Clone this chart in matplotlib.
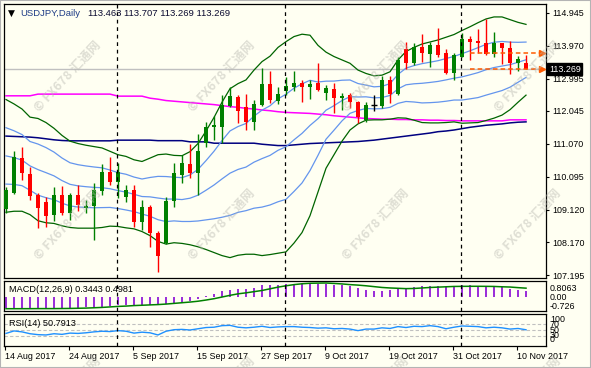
import numpy as np
import pandas as pd
import matplotlib
matplotlib.use("Agg")
import matplotlib.pyplot as plt
from matplotlib.patches import Rectangle

plt.rcParams['font.family'] = ['Liberation Sans', 'DejaVu Sans']

# ---------------- data ----------------
symbol = "USDJPY,Daily"
start_date = "2017-08-14"

open_ = [109.14, 109.61, 110.64, 110.18, 109.56, 109.36, 108.97, 109.56, 109.02, 109.56,
         109.17, 109.24, 109.69, 110.23, 109.95, 109.49, 109.71, 108.77, 109.20, 108.43,
         108.13, 109.38, 110.15, 110.48, 110.20, 111.09, 111.56, 111.58, 112.19, 112.46,
         112.15, 111.73, 112.22, 112.83, 112.35, 112.64, 112.74, 112.86, 112.76, 112.86,
         112.58, 112.68, 112.43, 112.51, 112.32, 111.78, 112.21, 112.19, 112.96, 112.53,
         113.87, 113.45, 113.92, 113.73, 113.99, 113.76, 113.17, 113.65, 114.17, 114.12,
         114.06, 113.72, 114.04, 113.89, 113.47, 113.463]
high = [109.80, 110.87, 110.99, 110.40, 109.62, 109.51, 109.80, 109.82, 109.63, 109.86,
        109.41, 109.92, 110.47, 110.67, 110.51, 109.86, 109.86, 109.41, 109.26, 108.50,
        109.49, 110.50, 110.74, 111.07, 111.35, 111.73, 111.89, 112.51, 112.76, 112.51,
        112.53, 112.37, 113.30, 113.22, 112.74, 113.05, 113.22, 112.96, 112.96, 113.47,
        112.81, 112.86, 112.56, 112.56, 112.35, 112.32, 112.51, 113.08, 113.08, 113.63,
        114.09, 114.06, 114.31, 114.09, 114.50, 113.86, 113.76, 114.34, 114.27, 114.46,
        114.76, 114.38, 114.06, 114.11, 113.67, 113.707]
low = [109.02, 109.58, 110.00, 109.41, 108.59, 108.62, 108.80, 108.97, 108.82, 109.10,
       109.02, 108.23, 109.56, 109.86, 109.46, 109.36, 108.60, 108.53, 108.03, 107.29,
       108.10, 109.21, 109.90, 110.05, 109.56, 110.99, 111.18, 111.09, 112.17, 111.68,
       111.48, 111.48, 112.19, 112.29, 112.25, 112.51, 112.64, 112.32, 112.40, 112.64,
       112.37, 111.99, 112.07, 112.12, 111.70, 111.72, 112.04, 112.12, 112.29, 112.51,
       113.27, 113.40, 113.48, 113.35, 113.65, 113.13, 112.96, 113.63, 113.55, 113.76,
       113.70, 113.65, 113.42, 113.13, 113.23, 113.269]
close = [109.71, 110.69, 110.20, 109.53, 109.17, 108.95, 109.56, 109.04, 109.56, 109.26,
         109.24, 109.71, 110.23, 109.95, 110.25, 109.71, 108.77, 109.20, 108.43, 107.76,
         109.38, 110.20, 110.50, 110.22, 110.86, 111.58, 111.62, 112.22, 112.48, 112.05,
         111.73, 112.25, 112.83, 112.37, 112.53, 112.78, 112.86, 112.76, 112.84, 112.66,
         112.73, 112.43, 112.49, 112.32, 111.87, 112.22, 112.21, 112.96, 112.53, 113.55,
         113.45, 113.92, 113.76, 113.99, 113.70, 113.17, 113.70, 114.17, 114.09, 114.04,
         113.72, 114.04, 113.89, 113.47, 113.58, 113.269]

bb_upper = [112.38, 112.25, 112.10, 111.86, 111.82, 111.70, 111.53, 111.32, 111.15, 111.08,
            111.03, 110.99, 110.95, 110.85, 110.75, 110.70, 110.60, 110.55, 110.65, 110.75,
            110.77, 110.73, 110.72, 110.84, 111.08, 111.45, 111.85, 112.30, 112.70, 112.85,
            112.96, 113.25, 113.50, 113.66, 113.92, 114.09, 114.24, 114.31, 114.28, 113.98,
            113.78, 113.65, 113.55, 113.45, 113.25, 113.15, 113.08, 113.10, 113.20, 113.55,
            113.80, 113.92, 114.02, 114.08, 114.14, 114.22, 114.30, 114.42, 114.53, 114.65,
            114.76, 114.82, 114.82, 114.74, 114.66, 114.60]
bb_lower = [109.05, 109.08, 109.08, 108.98, 108.80, 108.74, 108.72, 108.65, 108.60, 108.58,
            108.58, 108.58, 108.60, 108.64, 108.63, 108.59, 108.56, 108.48, 108.36, 108.19,
            108.11, 108.15, 108.13, 108.09, 108.03, 107.95, 107.86, 107.77, 107.71, 107.78,
            107.81, 107.81, 107.77, 107.80, 107.84, 107.88, 108.14, 108.45, 108.95, 109.65,
            110.35, 110.75, 111.15, 111.48, 111.66, 111.77, 111.78, 111.78, 111.80, 111.84,
            111.83, 111.77, 111.70, 111.69, 111.69, 111.70, 111.72, 111.68, 111.69, 111.70,
            111.76, 111.83, 111.92, 112.08, 112.30, 112.51]
ma_magenta = [112.49, 112.49, 112.49, 112.49, 112.54, 112.54, 112.54, 112.54, 112.54, 112.54,
              112.54, 112.54, 112.54, 112.54, 112.48, 112.48, 112.48, 112.48, 112.42, 112.39,
              112.35, 112.33, 112.31, 112.29, 112.27, 112.25, 112.23, 112.20, 112.17, 112.15,
              112.12, 112.10, 112.07, 112.05, 112.02, 112.00, 111.99, 111.98, 111.97, 111.95,
              111.93, 111.90, 111.88, 111.86, 111.84, 111.82, 111.81, 111.80, 111.80, 111.79,
              111.79, 111.78, 111.78, 111.77, 111.77, 111.76, 111.76, 111.75, 111.75, 111.75,
              111.75, 111.75, 111.75, 111.78, 111.78, 111.78]
ma_navy = [111.30, 111.29, 111.28, 111.27, 111.25, 111.22, 111.19, 111.17, 111.16, 111.16,
           111.16, 111.16, 111.16, 111.16, 111.18, 111.18, 111.18, 111.18, 111.18, 111.165,
           111.165, 111.165, 111.165, 111.13, 111.13, 111.13, 111.09, 111.09, 111.09, 111.09,
           111.09, 111.09, 111.06, 111.04, 111.02, 111.02, 111.04, 111.06, 111.08, 111.09,
           111.10, 111.11, 111.12, 111.13, 111.14, 111.16, 111.18, 111.21, 111.24, 111.27,
           111.30, 111.33, 111.36, 111.39, 111.43, 111.45, 111.48, 111.52, 111.56, 111.59,
           111.62, 111.64, 111.66, 111.69, 111.71, 111.72]

macd = [-0.70, -0.71, -0.72, -0.72, -0.72, -0.72, -0.70, -0.70, -0.70, -0.70,
        -0.65, -0.65, -0.61, -0.57, -0.53, -0.49, -0.49, -0.49, -0.49, -0.45,
        -0.45, -0.39, -0.33, -0.25, -0.15, 0.01, 0.15, 0.31, 0.41, 0.47,
        0.47, 0.51, 0.67, 0.67, 0.71, 0.75, 0.76, 0.76, 0.76, 0.76,
        0.75, 0.71, 0.67, 0.61, 0.51, 0.41, 0.35, 0.35, 0.41, 0.47,
        0.51, 0.55, 0.61, 0.61, 0.61, 0.55, 0.61, 0.67, 0.67, 0.61,
        0.61, 0.55, 0.55, 0.47, 0.41, 0.3443]
macd_signal = [-0.726, -0.726, -0.725, -0.724, -0.72, -0.72, -0.72, -0.715, -0.71, -0.70,
               -0.69, -0.67, -0.65, -0.62, -0.59, -0.57, -0.54, -0.52, -0.50, -0.48,
               -0.45, -0.41, -0.37, -0.33, -0.28, -0.21, -0.13, -0.03, 0.07, 0.16,
               0.22, 0.29, 0.36, 0.46, 0.56, 0.64, 0.71, 0.76, 0.79, 0.80,
               0.8063, 0.78, 0.75, 0.71, 0.68, 0.64, 0.59, 0.54, 0.51, 0.49,
               0.47, 0.48, 0.51, 0.54, 0.56, 0.58, 0.60, 0.606, 0.61, 0.61,
               0.606, 0.60, 0.58, 0.566, 0.53, 0.4981]
rsi = [39, 47, 44, 38, 35, 34, 38, 36, 40, 39, 41, 44, 46, 45, 48, 46, 40, 43, 41, 34,
       46, 51, 52, 50, 54, 58, 59, 64, 65, 59, 57, 59, 62, 58, 60, 61, 61, 59, 58, 56,
       57, 54, 55, 53, 48, 53, 53, 57, 55, 61, 58, 62, 61, 64, 61, 54, 59, 63, 62, 61,
       57, 59, 57, 53, 55, 50.79]

price_ticks = [114.945, 113.970, 112.995, 112.045, 111.070, 110.095, 109.120, 108.170, 107.195]
order_level = 113.745
macd_scale_labels = ["0.8063", "0.00", "-0.726"]
rsi_levels = [70, 50, 30]
rsi_scale_labels = ["100", "70", "50", "30", "0"]
header_values = "113.463 113.707 113.269 113.269"
macd_title = "MACD(12,26,9) 0.3443 0.4981"
rsi_title = "RSI(14) 50.7913"
watermark = "© FX678 汇通网"

# ---------------- styling ----------------
W, H = 591, 368
BG = "#FFFFF2"
GREEN = "#008000"
RED = "#FF0000"
BLUE = "#6495ED"
DKGREEN = "#006400"
ORANGE = "#FF5A00"
FS = 6.4

open_ = np.array(open_); high = np.array(high); low = np.array(low); close = np.array(close)
n = len(close)
idx = np.arange(n)
dates = pd.bdate_range(start_date, periods=n)

fig = plt.figure(figsize=(W / 100, H / 100), dpi=100, facecolor=BG)
fig.patches.append(Rectangle((0, 0), 1, 1, transform=fig.transFigure, fill=False,
                             ec="#B4B4B4", lw=1.5, zorder=0))


def rect(x0, y0, x1, y1):
    return [x0 / W, 1 - y1 / H, (x1 - x0) / W, (y1 - y0) / H]


ax = fig.add_axes(rect(4, 4, 545.7, 278))
axm = fig.add_axes(rect(4, 280.7, 545.7, 311.3))
axr = fig.add_axes(rect(4, 314.2, 545.7, 345.5))

XL = (-0.25, 67.46)
for a in (ax, axm, axr):
    a.set_facecolor(BG)
    a.set_xlim(*XL)
    for s in a.spines.values():
        s.set_color("black")
        s.set_linewidth(0.9)

# ---------------- main chart ----------------
ax.set_ylim(107.108, 115.202)
ax.axhline(close[-1], color="#C0C0C0", lw=1, zorder=1)

bb_upper = np.array(bb_upper); bb_lower = np.array(bb_lower)
bb_mid = (bb_upper + bb_lower) / 2
half = (bb_upper - bb_lower) / 4
ax.plot(idx, ma_magenta, color="#FF00FF", lw=1.1, zorder=2)
ax.plot(idx, ma_navy, color="#000080", lw=1.1, zorder=2)
ax.plot(idx, bb_upper, color=DKGREEN, lw=0.9, zorder=2)
ax.plot(idx, bb_lower, color=DKGREEN, lw=0.9, zorder=2)
ax.plot(idx, bb_mid, color=BLUE, lw=0.9, zorder=2)
ax.plot(idx, bb_mid + half, color=BLUE, lw=0.9, zorder=2)
ax.plot(idx, bb_mid - half, color=BLUE, lw=0.9, zorder=2)

doji = np.abs(close - open_) < 0.005
cols = np.where(doji, "black", np.where(close > open_, GREEN, RED))
ax.vlines(idx, low, high, colors=cols, lw=1.0, zorder=3)
body_h = np.maximum(np.abs(close - open_), 0.02)
ax.bar(idx[~doji], body_h[~doji], bottom=np.minimum(open_, close)[~doji], width=0.62,
       color=cols[~doji], linewidth=0, zorder=4)
ax.hlines(open_[doji], idx[doji] - 0.35, idx[doji] + 0.35, colors="black", lw=1.0, zorder=4)

# month separators
sep = np.where(dates.month[1:] != dates.month[:-1])[0] + 1
for a in (ax, axm, axr):
    for s in sep:
        a.axvline(s - 0.1, color="black", lw=0.9, ls=(0, (3, 3)), zorder=5)

# order / price lines
for lev in (order_level, close[-1]):
    ax.hlines(lev, 58, 67.0, colors=ORANGE, lw=1.1, linestyles=(0, (3, 2)), zorder=6)
ax.plot([67.05, 67.05], [order_level, close[-1]], ls="none", marker=">", ms=4.5,
        color=ORANGE, zorder=7, clip_on=False)

ax.yaxis.tick_right()
ax.set_yticks(price_ticks)
ax.set_yticklabels([f"{v:.3f}" for v in price_ticks])
ax.tick_params(axis="y", length=2.5, width=0.8, pad=2.5, labelsize=FS, colors="black")
ax.set_xticks([])

fig.text(549 / W, 1 - 69 / H, f"{close[-1]:.3f}", color="white", fontsize=FS,
         va="center", ha="left",
         bbox=dict(boxstyle="square,pad=0.18", fc="black", ec="black"))

fig.text(8 / W, 1 - 13 / H, "▼", fontsize=6.5, color="black", va="center", ha="left",
         family=["DejaVu Sans"])
fig.text(20 / W, 1 - 13 / H, symbol, fontsize=FS + 0.4, color="#1E3C86", va="center", ha="left")
fig.text(88 / W, 1 - 13 / H, header_values, fontsize=FS + 0.4, color="#0A0A30",
         va="center", ha="left")

# ---------------- MACD ----------------
axm.set_ylim(-0.881, 0.943)
axm.bar(idx, macd, width=0.24, color="#9B30D9", linewidth=0, zorder=2)
axm.plot(idx, macd_signal, color=GREEN, lw=1.1, zorder=3)
axm.set_xticks([]); axm.set_yticks([])
fig.text(9 / W, 1 - 290 / H, macd_title, fontsize=FS + 0.2, va="center", ha="left")
for lab, yy in zip(macd_scale_labels, [288.5, 298, 306.5]):
    fig.text(550 / W, 1 - yy / H, lab, fontsize=FS, va="center", ha="left")

# ---------------- RSI ----------------
axr.set_ylim(0, 101)
for lev in rsi_levels:
    axr.axhline(lev, color="#C0C0C0", lw=0.8, ls=(0, (3, 2)), zorder=1)
axr.plot(idx, rsi, color="#1E90FF", lw=1.0, zorder=3)
axr.set_yticks([])
fig.text(9 / W, 1 - 324 / H, rsi_title, fontsize=FS + 0.2, va="center", ha="left")
for lab, yy in zip(rsi_scale_labels, [319.5, 324.5, 330.5, 335.5, 340]):
    fig.text(550 / W, 1 - yy / H, lab, fontsize=FS, va="center", ha="left")

tick_pos = idx[::8]
axr.set_xticks(tick_pos - 0.15)
axr.set_xticklabels([f"{d.day} {d.strftime('%b %Y')}" for d in dates[tick_pos]],
                    ha="left", fontsize=FS)
axr.tick_params(axis="x", length=3, width=0.8, pad=2, colors="black")

# ---------------- watermark ----------------
for cy in (76, 224, 392):
    for cx in (68, 222, 376, 528):
        fig.text(cx / W, 1 - cy / H, watermark, rotation=47, ha="center", va="center",
                 fontsize=9, fontweight="bold", color="#B8B8B0", alpha=0.45,
                 family=["Noto Sans CJK SC", "DejaVu Sans"], zorder=10)

fig.savefig("out.png", dpi=100, facecolor=BG)
